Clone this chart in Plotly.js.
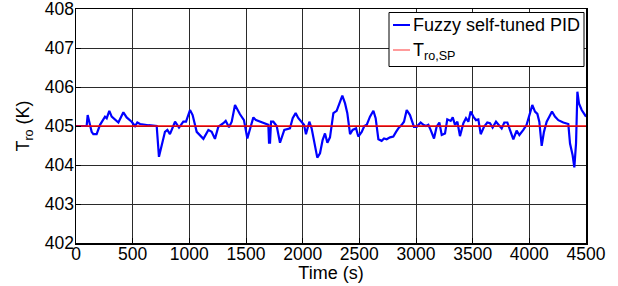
<!DOCTYPE html>
<html>
<head>
<meta charset="utf-8">
<script src="https://cdn.plot.ly/plotly-3.0.1.min.js"></script>
<style>html,body{margin:0;padding:0;background:#fff;}#chart{width:618px;height:286px;}</style>
</head>
<body>
<div id="chart"></div>
<script>
const timeS = [0, 94, 103, 138, 153, 182, 212, 235, 256, 271, 294, 315, 344, 374, 418, 447, 491, 521, 541, 565, 640, 712, 732, 756, 785, 806, 829, 874, 909, 947, 971, 1006, 1029, 1065, 1124, 1168, 1197, 1226, 1256, 1300, 1321, 1350, 1374, 1403, 1447, 1482, 1512, 1541, 1565, 1588, 1624, 1668, 1697, 1703, 1712, 1721, 1741, 1771, 1800, 1838, 1859, 1888, 1912, 1938, 1962, 1991, 2012, 2029, 2059, 2079, 2109, 2129, 2153, 2176, 2197, 2218, 2241, 2271, 2300, 2324, 2350, 2374, 2394, 2418, 2441, 2471, 2491, 2521, 2544, 2565, 2594, 2624, 2644, 2668, 2697, 2718, 2741, 2771, 2800, 2824, 2844, 2874, 2894, 2918, 2947, 2982, 3006, 3041, 3065, 3088, 3109, 3129, 3159, 3182, 3206, 3227, 3256, 3276, 3306, 3324, 3344, 3365, 3388, 3418, 3441, 3462, 3482, 3506, 3529, 3550, 3571, 3600, 3629, 3653, 3676, 3706, 3726, 3756, 3779, 3806, 3829, 3859, 3888, 3912, 3947, 3976, 4006, 4026, 4050, 4071, 4088, 4109, 4129, 4153, 4176, 4200, 4226, 4256, 4300, 4344, 4359, 4382, 4397, 4412, 4424, 4438, 4462, 4500];
const fuzzyPID = [405.0, 405.0, 405.28, 404.85, 404.79, 404.79, 405.03, 405.15, 405.24, 405.2, 405.39, 405.24, 405.17, 405.09, 405.35, 405.22, 405.11, 405.0, 405.09, 405.05, 405.02, 405.0, 404.21, 404.51, 404.85, 404.9, 404.79, 405.11, 404.96, 405.11, 405.11, 405.41, 405.28, 404.85, 404.67, 404.9, 404.85, 404.67, 404.98, 405.07, 405.13, 404.97, 405.11, 405.54, 405.3, 405.15, 404.68, 404.98, 405.22, 405.15, 405.11, 405.07, 405.03, 404.57, 404.57, 405.11, 405.11, 405.0, 404.57, 404.9, 404.92, 404.94, 405.2, 405.33, 405.2, 405.11, 405.03, 404.79, 405.11, 404.94, 404.47, 404.19, 404.3, 404.64, 404.81, 404.57, 404.71, 405.33, 405.39, 405.58, 405.78, 405.58, 405.33, 404.79, 404.9, 404.94, 404.73, 404.85, 405.0, 405.03, 405.24, 405.39, 405.2, 404.66, 404.62, 404.68, 404.66, 404.71, 404.73, 404.85, 404.94, 405.03, 405.11, 405.41, 405.28, 404.98, 404.98, 405.09, 405.03, 405.0, 405.03, 404.9, 404.68, 404.98, 405.09, 404.77, 404.81, 405.17, 405.13, 405.22, 405.03, 405.11, 404.74, 405.07, 405.2, 405.11, 405.37, 405.24, 405.15, 405.17, 404.79, 404.98, 405.09, 405.07, 404.96, 405.11, 405.03, 404.94, 405.09, 405.09, 404.9, 404.66, 404.88, 404.77, 404.9, 405.03, 405.33, 405.54, 405.37, 405.31, 405.11, 404.49, 404.85, 405.11, 405.24, 405.37, 405.24, 405.15, 405.09, 405.05, 404.55, 404.25, 403.94, 404.55, 405.88, 405.58, 405.41, 405.24];
const spTime = [0, 4500];
const spValue = [405, 405];
const xTicks = [0, 500, 1000, 1500, 2000, 2500, 3000, 3500, 4000, 4500];
const yTicks = [402, 403, 404, 405, 406, 407, 408];
const seriesNames = ["Fuzzy self-tuned PID", "T<sub>ro,SP</sub>"];

const FAM = "Liberation Sans, Arial, sans-serif";
const tickFont = {family: FAM, size: 17.5, color: "#000"};
const textFont = {family: FAM, size: 18, color: "#000"};

const traces = [
  {x: timeS, y: fuzzyPID, type: "scatter", mode: "lines", name: seriesNames[0],
   line: {color: "#0000ff", width: 2.2}, showlegend: false},
  {x: spTime, y: spValue, type: "scatter", mode: "lines", name: seriesNames[1],
   line: {color: "#ff0000", width: 1.5}, showlegend: false}
];

const axisCommon = {
  showline: true, linecolor: "#000", linewidth: 1.5, mirror: true,
  showgrid: true, gridcolor: "#2a2a2a", gridwidth: 1,
  ticks: "inside", ticklen: 5, tickcolor: "#000",
  zeroline: false, tickfont: tickFont, ticklabeloverflow: "allow"
};

const W = 618, H = 286, L = 76, R = 32, T = 9, B = 43;
const pw = W - L - R, ph = H - T - B;
const px = x => (x - L) / pw;
const py = y => 1 - (y - T) / ph;

const layout = {
  width: W, height: H,
  margin: {l: L, r: R, t: T, b: B, pad: 0},
  paper_bgcolor: "#fff", plot_bgcolor: "#fff",
  font: textFont,
  showlegend: false,
  xaxis: Object.assign({}, axisCommon, {
    range: [0, 4500], tickvals: xTicks, ticktext: xTicks.map(String),
    ticklabelstandoff: -6,
    title: {text: "Time (s)", font: textFont, standoff: 0}
  }),
  yaxis: Object.assign({}, axisCommon, {
    range: [402, 408], tickvals: yTicks, ticktext: yTicks.map(String),
    ticklabelstandoff: -3,
    title: {text: "T<sub>ro</sub> (K)", font: textFont, standoff: 10}
  }),
  shapes: [
    {type: "rect", xref: "paper", yref: "paper", x0: px(389), x1: px(584), y0: py(12.5), y1: py(66.5),
     line: {color: "#000", width: 1}, fillcolor: "#fff", layer: "above"},
    {type: "line", xref: "paper", yref: "paper", x0: px(393), x1: px(410), y0: py(25), y1: py(25),
     line: {color: "#0000ff", width: 2}, layer: "above"},
    {type: "line", xref: "paper", yref: "paper", x0: px(393), x1: px(410), y0: py(50), y1: py(50),
     line: {color: "#ff7a7a", width: 1.5}, layer: "above"}
  ],
  annotations: [
    {xref: "paper", yref: "paper", x: px(411), y: py(25), xanchor: "left", yanchor: "middle",
     text: seriesNames[0], showarrow: false, font: textFont},
    {xref: "paper", yref: "paper", x: px(411), y: py(51), xanchor: "left", yanchor: "middle",
     text: seriesNames[1], showarrow: false, font: textFont}
  ]
};

Plotly.newPlot("chart", traces, layout, {staticPlot: true, displayModeBar: false});
</script>
</body>
</html>
